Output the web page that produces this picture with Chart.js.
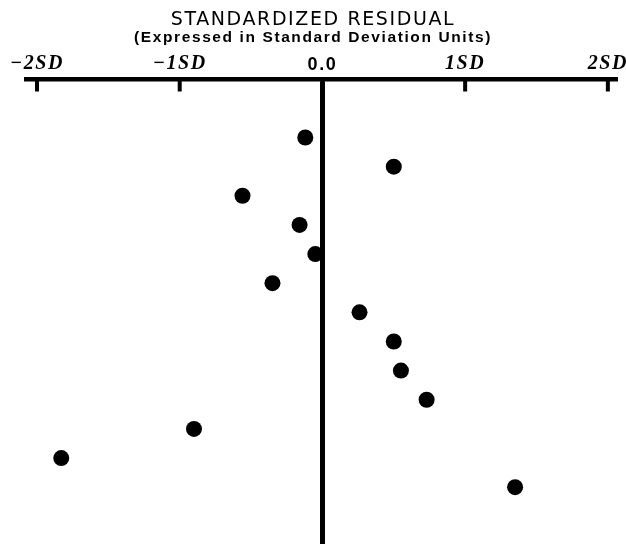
<!DOCTYPE html>
<html>
<head>
<meta charset="utf-8">
<script src="https://cdn.jsdelivr.net/npm/chart.js@4.4.0/dist/chart.umd.min.js"></script>
<style>
  html, body { margin: 0; padding: 0; background: #fff; }
  canvas { display: block; }
</style>
</head>
<body>
<canvas id="residualChart" width="626" height="544"></canvas>
<script>
// Rows from top to bottom, and the standardized residual of each row (SD units)
const rows = [1, 2, 3, 4, 5, 6, 7, 8, 9, 10, 11, 12, 13];
const residuals = [-0.12, 0.50, -0.56, -0.16, -0.05, -0.35, 0.26, 0.50, 0.55, 0.73, -0.90, -1.83, 1.35];

// Axis ticks
const tickValues = [-2, -1, 0, 1, 2];
const tickLabels = ['\u22122SD', '\u22121SD', '0.0', '1SD', '2SD'];

// the printed lettering is spaced out a bit; only applied while drawing
const wideText = {
    id: 'wideText',
    beforeDraw(chart) { chart.ctx.letterSpacing = '1.6px'; },
    afterDraw(chart) { chart.ctx.letterSpacing = '0px'; }
};

// short tick marks that hang below the axis line
const tickStubs = {
    id: 'tickStubs',
    afterDraw(chart) {
        const { ctx, chartArea, scales: { x } } = chart;
        ctx.save();
        ctx.strokeStyle = '#000';
        ctx.lineWidth = 4;
        x.ticks.forEach(t => {
            const px = x.getPixelForValue(t.value);
            ctx.beginPath();
            ctx.moveTo(px, chartArea.top);
            ctx.lineTo(px, chartArea.top + 12);
            ctx.stroke();
        });
        ctx.restore();
    }
};

const ctx = document.getElementById('residualChart').getContext('2d');
const residualChart = new Chart(ctx, {
    type: 'scatter',
    data: {
        datasets: [{
            data: residuals.map((r, i) => ({ x: r, y: rows[i] })),
            pointRadius: 8,
            pointHoverRadius: 8,
            backgroundColor: '#000',
            borderWidth: 0
        }]
    },
    options: {
        responsive: false,
        animation: false,
        events: [],
        layout: { autoPadding: false, padding: { left: 11, right: 11, top: 0, bottom: 0 } },
        plugins: {
            legend: { display: false },
            tooltip: { enabled: false },
            title: {
                display: true,
                text: 'STANDARDIZED RESIDUAL',
                color: '#000',
                font: { family: 'DejaVu Sans', size: 19, weight: 'normal', lineHeight: 1 },
                padding: { top: 10.5, bottom: 0 }
            },
            subtitle: {
                display: true,
                text: '(Expressed in Standard Deviation Units)',
                color: '#000',
                font: { family: 'Liberation Sans', size: 15.5, weight: 'bold', lineHeight: 1 },
                padding: { top: 0, bottom: 6.5 }
            }
        },
        scales: {
            x: {
                type: 'linear',
                position: 'top',
                min: -2.077,
                max: 2.05,
                afterBuildTicks: scale => {
                    scale.ticks = tickValues.map(v => ({ value: v }));
                },
                grid: {
                    drawTicks: true,
                    tickLength: 4,
                    tickColor: 'rgba(0,0,0,0)',
                    color: c => (c.tick && c.tick.value === 0 ? '#000' : 'rgba(0,0,0,0)'),
                    lineWidth: 5
                },
                border: { display: true, color: '#000', width: 4.5 },
                ticks: {
                    color: '#000',
                    padding: 0,
                    maxRotation: 0,
                    autoSkip: false,
                    font: c => (c.tick && c.tick.value === 0
                        ? { family: 'Liberation Sans', size: 18, weight: 'bold' }
                        : { family: 'Liberation Serif', size: 20, weight: 'bold', style: 'italic' }),
                    callback: value => tickLabels[tickValues.indexOf(value)]
                }
            },
            y: {
                type: 'linear',
                reverse: true,
                min: -0.99,
                max: 14.95,
                // invisible axis that only keeps a 15px margin on the left
                afterFit: scale => { scale.width = 15; },
                grid: { display: false },
                border: { display: false },
                ticks: { display: false }
            }
        }
    },
    plugins: [wideText, tickStubs]
});
</script>
</body>
</html>
